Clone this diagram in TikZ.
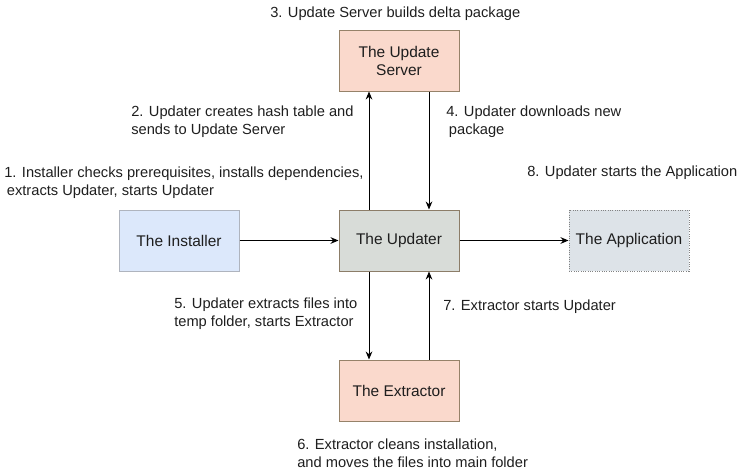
\documentclass[tikz,border=0pt]{standalone}
\usepackage{fontspec}
\setmainfont{Liberation Sans}
\usetikzlibrary{arrows.meta}

\definecolor{serverColor}{RGB}{250,217,204}
\definecolor{serverLine}{RGB}{150,130,105}
\definecolor{installerColor}{RGB}{220,232,251}
\definecolor{installerLine}{RGB}{175,180,190}
\definecolor{updaterColor}{RGB}{216,220,216}
\definecolor{updaterLine}{RGB}{140,125,104}
\definecolor{appColor}{RGB}{221,227,232}
\definecolor{appLine}{RGB}{130,130,130}
\definecolor{labelColor}{RGB}{30,30,30}

\tikzset{
  block/.style={draw, minimum width=90pt, minimum height=45.75pt, align=center,
    font=\fontsize{11.6}{13.5}\selectfont, text=labelColor, line width=0.75pt},
  note/.style={align=left, font=\fontsize{11}{13.8}\selectfont, text=labelColor,
    inner sep=0pt},
  flow/.style={-{Stealth[length=6pt,width=5pt]}, line width=0.75pt}
}

\begin{document}
\begin{tikzpicture}[x=0.75pt,y=-0.75pt]
  \useasboundingbox (0,0) rectangle (745,475);
  % Blocks
  \node[block, fill=serverColor, draw=serverLine] (server) at (399,60.5) {The Update\\Server};
  \node[block, fill=installerColor, draw=installerLine] (installer) at (179,240.5) {The Installer};
  \node[block, fill=updaterColor, draw=updaterLine] (updater) at (399,240.5) {The Updater};
  \node[block, fill=appColor, draw=appLine, densely dotted] (app) at (629,240.5) {The Application};
  \node[block, fill=serverColor, draw=serverLine] (extractor) at (399,390.5) {The Extractor};
  % Connectors
  \draw[flow] (installer) -- (updater);
  \draw[flow] (updater) -- (app);
  \draw[flow] ([xshift=-22.5pt]updater.north) -- ([xshift=-22.5pt]server.south);
  \draw[flow] ([xshift=22.5pt]server.south) -- ([xshift=22.5pt]updater.north);
  \draw[flow] ([xshift=-22.5pt]updater.south) -- ([xshift=-22.5pt]extractor.north);
  \draw[flow] ([xshift=22.5pt]extractor.north) -- ([xshift=22.5pt]updater.south);
  % Labels
  \node[note, anchor=west] (lab1) at (4,183) {1. Installer checks prerequisites, installs dependencies,\\\hspace{2pt}extracts Updater, starts Updater};
  \node[note, anchor=west] (lab2) at (131,122) {2. Updater creates hash table and\\sends to Update Server};
  \node[note, anchor=west] (lab3) at (270,14) {3. Update Server builds delta package};
  \node[note, anchor=west] (lab4) at (446,122) {4. Updater downloads new\\\hspace{2pt}package};
  \node[note, anchor=west] (lab5) at (174,314) {5. Updater extracts files into\\temp folder, starts Extractor};
  \node[note, anchor=west] (lab6) at (297,453) {6. Extractor cleans installation,\\and moves the files into main folder};
  \node[note, anchor=west] (lab7) at (443,307) {7. Extractor starts Updater};
  \node[note, anchor=west] (lab8) at (527,173) {8. Updater starts the Application};
\end{tikzpicture}
\end{document}
